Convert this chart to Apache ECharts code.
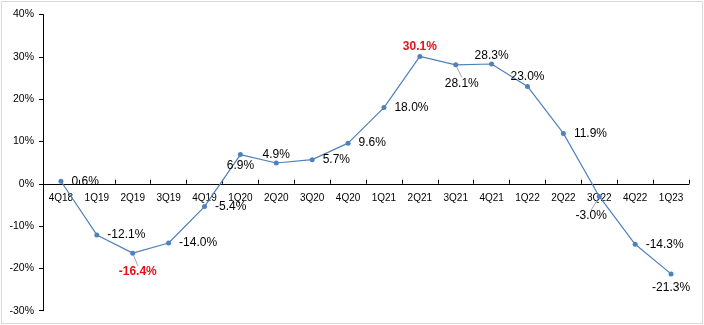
<!DOCTYPE html>
<html>
<head>
<meta charset="utf-8">
<script src="https://cdn.jsdelivr.net/npm/echarts@6/dist/echarts.min.js"></script>
<style>
  html, body { margin: 0; padding: 0; background: #fff; }
  #wrap { position: relative; width: 704px; height: 325px; }
  #chart { position: absolute; left: 0; top: 0; width: 704px; height: 325px; }
  #frame { position: absolute; left: 1px; top: 1px; width: 702px; height: 323px;
           box-sizing: border-box; border: 1px solid #d9d9d9; pointer-events: none; }
</style>
</head>
<body>
<div id="wrap">
  <div id="chart"></div>
  <div id="frame"></div>
</div>
<script>
// Quarterly year-over-year growth, in percent
const quarters = ['4Q18', '1Q19', '2Q19', '3Q19', '4Q19', '1Q20', '2Q20', '3Q20', '4Q20',
                  '1Q21', '2Q21', '3Q21', '4Q21', '1Q22', '2Q22', '3Q22', '4Q22', '1Q23'];
const growth = [0.6, -12.1, -16.4, -14.0, -5.4, 6.9, 4.9, 5.7, 9.6,
                18.0, 30.1, 28.1, 28.3, 23.0, 11.9, -3.0, -14.3, -21.3];
const yTicks = { min: -30, max: 40, step: 10 };

// Extremes highlighted in red bold
const highlighted = [2, 10];

// Per-point label placement
const labelPlacement = {
  5:  { position: 'bottom', distance: 3, offset: [4, 0] },
  6:  { position: 'top', distance: 0, offset: [7, 0] },
  10: { position: 'top', distance: 1.5, offset: [3, 0] },
  12: { position: 'top', distance: 0, offset: [12, 4] },
  13: { position: 'top', distance: 1.5, offset: [3, 0] },
  17: { position: 'bottom', distance: 5.5, offset: [4, 0] },
  2:  { position: 'bottom', distance: 0 },
  11: { position: 'bottom', distance: 0 },
  15: { position: 'bottom', distance: 0 }
};
// Labels pulled away from their point, joined back by a guide line
const guided = { 2: [5, 10], 11: [6, 10], 15: [-8, 11] };

const FONT = '"Liberation Sans", Arial, sans-serif';

const seriesData = growth.map((v, i) => {
  const item = { value: v };
  const lab = Object.assign({}, labelPlacement[i] || {});
  if (highlighted.includes(i)) {
    lab.color = '#e3111a';
    lab.fontWeight = 'bold';
  }
  item.label = lab;
  item.labelLine = { show: !!guided[i] };
  return item;
});

// Distance between the zero line and the bottom of the plot, used to bring
// the category labels up under the zero line
const GRID_TOP = 14.5, GRID_BOTTOM = 14.3, CHART_H = 325;
const plotH = CHART_H - GRID_TOP - GRID_BOTTOM;
const zeroLift = plotH * (0 - yTicks.min) / (yTicks.max - yTicks.min);

const chart = echarts.init(document.getElementById('chart'), null, { renderer: 'canvas' });
chart.setOption({
  animation: false,
  backgroundColor: '#fff',
  grid: { left: 43, right: 15, top: GRID_TOP, bottom: GRID_BOTTOM, containLabel: false },
  xAxis: {
    type: 'category',
    data: quarters,
    boundaryGap: true,
    axisLine: { onZero: true, lineStyle: { color: '#000', width: 1 } },
    axisTick: { show: true, inside: true, length: 4, alignWithLabel: false,
                lineStyle: { color: '#000' } },
    axisLabel: { color: '#000', fontFamily: FONT, fontSize: 10,
                 margin: 9 - zeroLift, interval: 0 },
    splitLine: { show: false }
  },
  yAxis: {
    type: 'value',
    min: yTicks.min,
    max: yTicks.max,
    interval: yTicks.step,
    axisLine: { show: true, lineStyle: { color: '#000', width: 1 } },
    axisTick: { show: true, inside: false, length: 4, lineStyle: { color: '#000' } },
    axisLabel: { color: '#000', fontFamily: FONT, fontSize: 10.5, margin: 9,
                 formatter: '{value}%' },
    splitLine: { show: false }
  },
  series: [{
    type: 'line',
    data: seriesData,
    symbol: 'circle',
    symbolSize: 5,
    itemStyle: { color: '#4f81bd' },
    lineStyle: { color: '#4f81bd', width: 1.2 },
    label: {
      show: true,
      position: 'right',
      distance: 8,
      color: '#000',
      fontFamily: FONT,
      fontSize: 12,
      formatter: p => p.value.toFixed(1) + '%'
    },
    labelLine: { show: true, lineStyle: { color: '#a6a6a6', width: 1 } },
    labelLayout: function (params) {
      const d = guided[params.dataIndex];
      return d ? { dx: d[0], dy: d[1] } : {};
    }
  }]
});
</script>
</body>
</html>
